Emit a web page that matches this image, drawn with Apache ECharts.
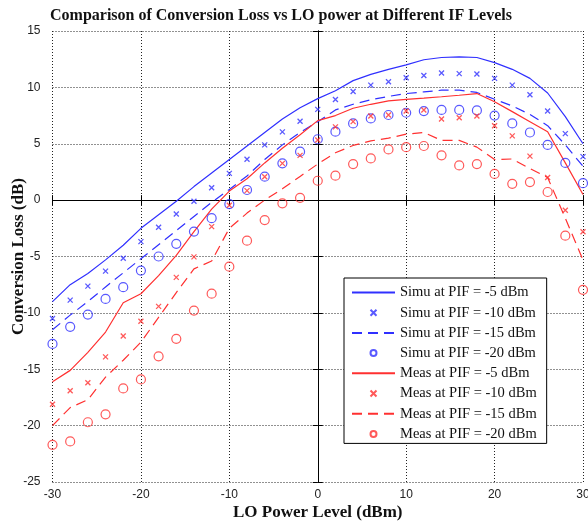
<!DOCTYPE html>
<html>
<head>
<meta charset="utf-8">
<script src="https://cdn.jsdelivr.net/npm/echarts@6/dist/echarts.min.js"></script>
<style>
  html, body { margin: 0; padding: 0; background: #ffffff; }
  #chart { width: 588px; height: 524px; }
</style>
</head>
<body>
<div id="chart"></div>
<script>
// LO power sweep (dBm)
const loPower = [-30, -28, -26, -24, -22, -20, -18, -16, -14, -12, -10, -8, -6, -4, -2,
                 0, 2, 4, 6, 8, 10, 12, 14, 16, 18, 20, 22, 24, 26, 28, 30];

// Simulated conversion loss (dB)
const simuPif5 = [-9.0, -7.5, -6.5, -5.3, -4.0, -2.5, -1.3, -0.1, 1.2, 2.4, 3.6, 4.8, 6.0, 7.2, 8.2,
                  9.0, 9.7, 10.6, 11.15, 11.6, 12.0, 12.45, 12.65, 12.7, 12.65, 12.2, 11.6, 10.8, 9.5, 7.4, 5.0];
const simuPif10 = [-10.5, -8.87, -7.63, -6.3, -5.15, -3.68, -2.4, -1.23, -0.1, 1.1, 2.37, 3.63, 4.9, 6.05, 7.0,
                   8.05, 8.92, 9.63, 10.2, 10.5, 10.85, 11.05, 11.27, 11.22, 11.19, 10.8, 10.2, 9.35, 7.9, 5.9, 3.86];
const simuPif15 = [-11.5, -10.2, -9.0, -7.7, -6.45, -5.2, -3.95, -2.7, -1.45, -0.2, 0.95, 2.14, 3.6, 4.9, 6.0,
                   6.95, 8.0, 8.5, 8.9, 9.2, 9.45, 9.6, 9.75, 9.75, 9.55, 8.95, 8.35, 7.6, 6.6, 4.9, 3.0];
const simuPif20 = [-12.75, -11.24, -10.15, -8.76, -7.72, -6.25, -5.0, -3.88, -2.79, -1.6, -0.35, 0.9, 2.08, 3.26, 4.3,
                   5.4, 6.07, 6.8, 7.25, 7.55, 7.75, 7.9, 8.0, 8.0, 7.96, 7.5, 6.8, 6.0, 4.9, 3.3, 1.5];

// Measured conversion loss (dB)
const measPif5 = [-16.1, -15.1, -13.5, -11.7, -9.1, -8.3, -6.7, -4.9, -2.8, -0.8, 0.8, 1.9, 3.3, 4.6, 5.8,
                  7.05, 7.5, 8.15, 8.5, 8.8, 8.94, 9.05, 9.17, 9.3, 9.45, 8.72, 7.85, 6.96, 6.07, 3.3, 0.5];
const measPif10 = [-18.1, -16.9, -16.2, -13.9, -12.05, -10.75, -9.42, -6.85, -5.03, -2.35, -0.45, 0.84, 2.08, 3.26, 3.97,
                   5.33, 6.5, 6.96, 7.46, 7.55, 7.9, 8.0, 7.2, 7.3, 7.46, 6.6, 5.7, 3.9, 2.0, -0.9, -2.8];
const measPif15 = [-20.0, -18.4, -17.7, -15.7, -14.2, -12.6, -10.4, -8.2, -6.1, -5.4, -2.5, -1.15, 0.0, 1.0, 2.1,
                   3.2, 4.2, 4.85, 5.25, 5.5, 5.85, 6.0, 5.3, 5.3, 4.7, 3.6, 3.65, 2.8, 2.0, -1.6, -5.3];
const measPif20 = [-21.7, -21.4, -19.7, -19.0, -16.7, -15.9, -13.85, -12.3, -9.8, -8.3, -5.9, -3.6, -1.77, -0.28, 0.2,
                   1.72, 2.17, 3.2, 3.7, 4.5, 4.7, 4.8, 3.97, 3.08, 3.2, 2.32, 1.45, 1.6, 0.72, -3.15, -7.96];

const seriesNames = [
  'Simu at PIF = -5 dBm', 'Simu at PIF = -10 dBm', 'Simu at PIF = -15 dBm', 'Simu at PIF = -20 dBm',
  'Meas at PIF = -5 dBm', 'Meas at PIF = -10 dBm', 'Meas at PIF = -15 dBm', 'Meas at PIF = -20 dBm'
];
// which entries are drawn as plain lines (no marker in the legend key)
const isLineEntry = [true, false, true, false, true, false, true, false];

const BLUE = '#3030ff';
const RED = '#ff3030';
const CROSS = 'path://M0,0L10,10M0,10L10,0';
const DASH = [10, 6];
const serif = 'Liberation Serif';
const sans = 'Liberation Sans';

const pairs = ys => loPower.map((x, i) => [x, ys[i]]);

function lineSeries(name, ys, color, dashed) {
  return {
    name, type: 'line', data: pairs(ys), symbol: 'none',
    lineStyle: { color, width: 1.2, type: dashed ? DASH : 'solid' },
    itemStyle: { color },
    silent: true, z: 3
  };
}
function crossSeries(name, ys, color) {
  return {
    name, type: 'scatter', data: pairs(ys), symbol: CROSS, symbolSize: 5,
    itemStyle: { color, borderColor: color, borderWidth: 1.3 },
    silent: true, z: 4
  };
}
function circleSeries(name, ys, color) {
  return {
    name, type: 'scatter', data: pairs(ys), symbol: 'circle', symbolSize: 9,
    itemStyle: { color: 'rgba(0,0,0,0)', borderColor: color, borderWidth: 1.2 },
    silent: true, z: 4
  };
}

const gridLine = { show: true, lineStyle: { color: '#222', width: 1, type: [1, 2] } };
const blackLine = { show: true, lineStyle: { color: '#000', width: 1 } };
const inTick = { show: true, inside: true, length: 5, lineStyle: { color: '#000' } };

const legendData = seriesNames.map((name, i) =>
  isLineEntry[i] ? { name, itemStyle: { opacity: 0 } } : { name });

const chart = echarts.init(document.getElementById('chart'), null, { renderer: 'canvas' });
chart.setOption({
  animation: false,
  backgroundColor: '#ffffff',
  title: {
    text: 'Comparison of Conversion Loss vs LO power at Different IF Levels',
    left: 45, top: 3,
    textStyle: { fontFamily: serif, fontWeight: 'bold', fontSize: 16, color: '#111' }
  },
  grid: { left: 52.5, right: 5, top: 31, bottom: 42, containLabel: false, outerBoundsMode: 'none' },
  legend: {
    orient: 'vertical',
    left: 344, top: 278,
    data: legendData,
    itemWidth: 43, itemHeight: 6, itemGap: 5.2,
    padding: [7, 10, 2, 7],
    backgroundColor: '#ffffff',
    borderColor: '#000', borderWidth: 1, borderRadius: 0,
    selectedMode: false,
    textStyle: { fontFamily: serif, fontSize: 14.5, color: '#111' }
  },
  xAxis: [{
    type: 'value', min: -30, max: 30, interval: 10,
    name: 'LO Power Level (dBm)', nameLocation: 'middle', nameGap: 22, nameMoveOverlap: false,
    nameTextStyle: { fontFamily: serif, fontWeight: 'bold', fontSize: 17, color: '#111' },
    axisLine: blackLine, axisTick: inTick,
    axisLabel: { fontFamily: sans, fontSize: 12, color: '#222', margin: 7 },
    splitLine: gridLine
  }, {
    type: 'value', min: -30, max: 30, interval: 10, position: 'top',
    axisLine: blackLine, axisTick: inTick,
    axisLabel: { show: false }, splitLine: { show: false }
  }],
  yAxis: [{
    type: 'value', min: -25, max: 15, interval: 5,
    name: 'Conversion Loss (dB)', nameLocation: 'middle', nameGap: 25, nameMoveOverlap: false,
    nameTextStyle: { fontFamily: serif, fontWeight: 'bold', fontSize: 17, color: '#111' },
    axisLine: blackLine, axisTick: inTick,
    axisLabel: { fontFamily: sans, fontSize: 12, color: '#222', margin: 12 },
    splitLine: gridLine
  }, {
    type: 'value', min: -25, max: 15, interval: 5, position: 'right',
    axisLine: blackLine, axisTick: inTick,
    axisLabel: { show: false }, splitLine: { show: false }
  }],
  series: [
    lineSeries(seriesNames[0], simuPif5, BLUE, false),
    crossSeries(seriesNames[1], simuPif10, BLUE),
    lineSeries(seriesNames[2], simuPif15, BLUE, true),
    circleSeries(seriesNames[3], simuPif20, BLUE),
    lineSeries(seriesNames[4], measPif5, RED, false),
    crossSeries(seriesNames[5], measPif10, RED),
    lineSeries(seriesNames[6], measPif15, RED, true),
    circleSeries(seriesNames[7], measPif20, RED)
  ]
});
</script>
</body>
</html>
